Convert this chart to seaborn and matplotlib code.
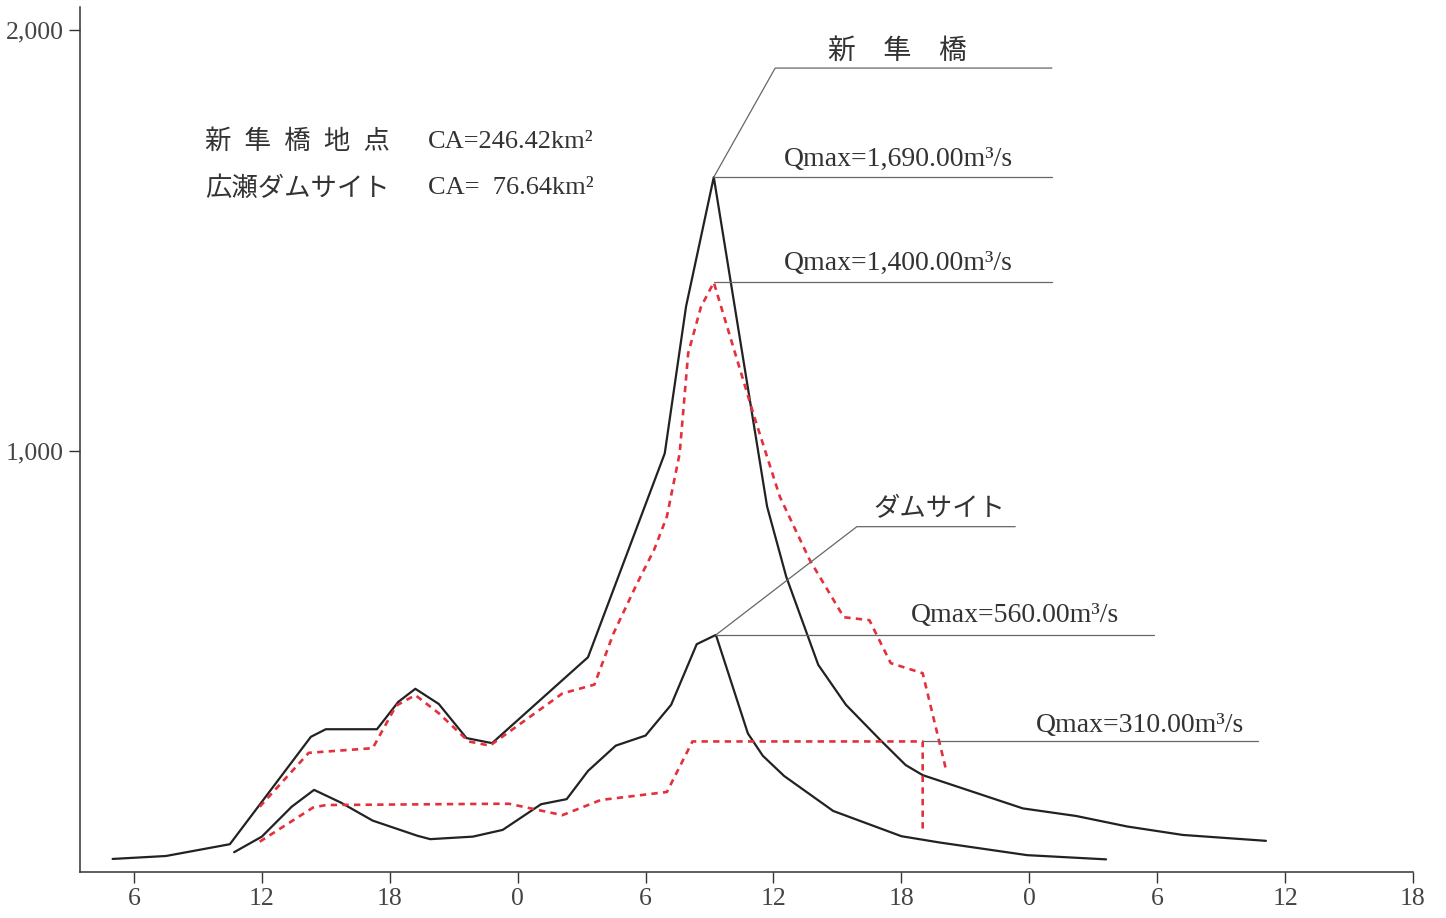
import numpy as np
import pandas as pd
import seaborn as sns
from matplotlib import pyplot as plt


# hours on a running clock: 6 = first "6" tick, 30 = next day's 6, ...
shin_calc_t = [5.0, 7.5, 10.5, 14.3, 15.0, 17.4, 18.4, 19.2, 20.3, 21.6, 22.8, 27.3, 30.9,
               31.9, 33.2, 35.7, 36.6, 38.1, 39.4, 41.0, 42.2, 43.0, 47.7, 50.2, 52.6, 55.2, 59.1]
shin_calc_q = [31, 38, 66, 321, 339, 339, 404, 435, 399, 318, 306, 510, 994,
               1343, 1650, 868, 701, 492, 397, 314, 254, 230, 151, 133, 108, 88, 74]

shin_obs_t = [11.9, 14.2, 17.2, 18.3, 19.2, 20.3, 21.7, 22.7, 26.1, 27.6, 28.5, 29.6, 30.4,
              31.0, 31.6, 32.0, 32.6, 33.2, 35.1, 36.3, 37.7, 39.3, 40.5, 41.5, 43.0, 44.1]
shin_obs_q = [155, 283, 294, 395, 420, 377, 310, 300, 424, 445, 567, 685, 765,
              844, 994, 1232, 1342, 1400, 1081, 891, 741, 605, 598, 496, 472, 242]

dam_calc_t = [10.7, 12.0, 13.4, 14.45, 15.7, 17.2, 19.3, 19.9, 21.9, 23.3, 25.1, 26.3, 27.3,
              28.6, 30.0, 31.2, 32.4, 33.3, 34.8, 35.5, 36.5, 38.8, 42.0, 43.8, 47.9, 51.6]
dam_calc_q = [47, 84, 155, 195, 165, 122, 86, 78, 84, 100, 161, 173, 240,
              300, 324, 397, 541, 563, 329, 276, 228, 145, 85, 70, 40, 30]

dam_obs_t = [11.9, 14.4, 15.0, 23.0, 23.6, 26.1, 27.9, 31.0, 32.2, 43.0, 43.0]
dam_obs_q = [72, 153, 159, 162, 162, 135, 171, 190, 310, 310, 102]

qmax_labels = [1690, 1400, 560, 310]
tick_hours = [6, 12, 18, 24, 30, 36, 42, 48, 54, 60, 66]
y_ticks = [1000, 2000]

sns.set_theme(style='white')
plt.rcParams['font.family'] = ['Liberation Serif', 'Noto Sans CJK JP', 'DejaVu Sans']
jp = ['Noto Sans CJK JP', 'DejaVu Sans']

fig = plt.figure(figsize=(14.46, 9.18), dpi=100)
ax = fig.add_axes([80 / 1446, 1 - 872 / 918, (1413 - 80) / 1446, (872 - 7) / 918])

black = '#222222'
red = '#e3303c'
grey = '#666666'

sns.lineplot(x=shin_calc_t, y=shin_calc_q, sort=False, estimator=None, color=black, lw=1.6, ax=ax)
sns.lineplot(x=dam_calc_t, y=dam_calc_q, sort=False, estimator=None, color=black, lw=1.6, ax=ax)
sns.lineplot(x=shin_obs_t, y=shin_obs_q, sort=False, estimator=None, color=red, lw=1.9, ax=ax)
ax.lines[-1].set_dashes([2.4, 2.0])
sns.lineplot(x=dam_obs_t, y=dam_obs_q, sort=False, estimator=None, color=red, lw=1.9, ax=ax)
ax.lines[-1].set_dashes([2.4, 2.0])

# leader lines for the annotations
ip = int(np.argmax(shin_calc_q))
pk_t, pk_q = shin_calc_t[ip], shin_calc_q[ip]
ax.plot([pk_t, 36.08, 49.06], [pk_q, 1909, 1909], color=grey, lw=0.9)
ax.plot([pk_t, 49.06], [pk_q, pk_q], color=grey, lw=0.9)
io = int(np.argmax(shin_obs_q))
ax.plot([shin_obs_t[io], 49.06], [shin_obs_q[io], shin_obs_q[io]], color=grey, lw=0.9)
idp = int(np.argmax(dam_calc_q))
dp_t, dp_q = dam_calc_t[idp], dam_calc_q[idp]
ax.plot([dp_t, 39.91, 47.34], [dp_q, 820, 820], color=grey, lw=0.9)
ax.plot([dp_t, 53.83], [dp_q, dp_q], color=grey, lw=0.9)
ax.plot([dam_obs_t[-2], 58.75], [dam_obs_q[-2], dam_obs_q[-2]], color=grey, lw=0.9)

txt = dict(color='#333333', fontsize=20, ha='center', va='center')
ax.text(41.83, 1951, '新　隼　橋', family=jp, **txt)
ax.text(41.85, 1693, f'Qmax={qmax_labels[0]:,.2f}m³/s', **txt)
ax.text(41.85, 1444, f'Qmax={qmax_labels[1]:,.2f}m³/s', **txt)
ax.text(43.78, 862, 'ダムサイト', family=jp, color='#333333', fontsize=19, ha='center', va='center')
ax.text(47.34, 608, f'Qmax={qmax_labels[2]:,.2f}m³/s', **txt)
ax.text(53.2, 349, f'Qmax={qmax_labels[3]:,.2f}m³/s', **txt)

ax.text(9.33, 1734, '新\u2002隼\u2002橋\u2002地\u2002点', family=jp, color='#333333', fontsize=19, va='center')
ax.text(9.33, 1624, '広瀬ダムサイト', family=jp, color='#333333', fontsize=19, va='center')
ax.text(19.8, 1734, 'CA=246.42km²', color='#333333', fontsize=19, va='center')
ax.text(19.8, 1624, 'CA=  76.64km²', color='#333333', fontsize=19, va='center')

ax.set_xlim(3.47, 66.0)
ax.set_ylim(0, 2054)
ax.set_xticks(tick_hours)
ax.set_xticklabels([str(h % 24) for h in tick_hours])
ax.set_yticks(y_ticks)
ax.set_yticklabels([f'{v:,}' for v in y_ticks])
ax.tick_params(axis='both', direction='out', length=8, width=1, color='#333333',
               labelsize=18.5, labelcolor='#444444', bottom=True, left=True)
for s in ['top', 'right']:
    ax.spines[s].set_visible(False)
for s in ['left', 'bottom']:
    ax.spines[s].set_color('#333333')
    ax.spines[s].set_linewidth(1.1)
ax.set_xlabel('')
ax.set_ylabel('')

fig.savefig('out.png', dpi=100)
